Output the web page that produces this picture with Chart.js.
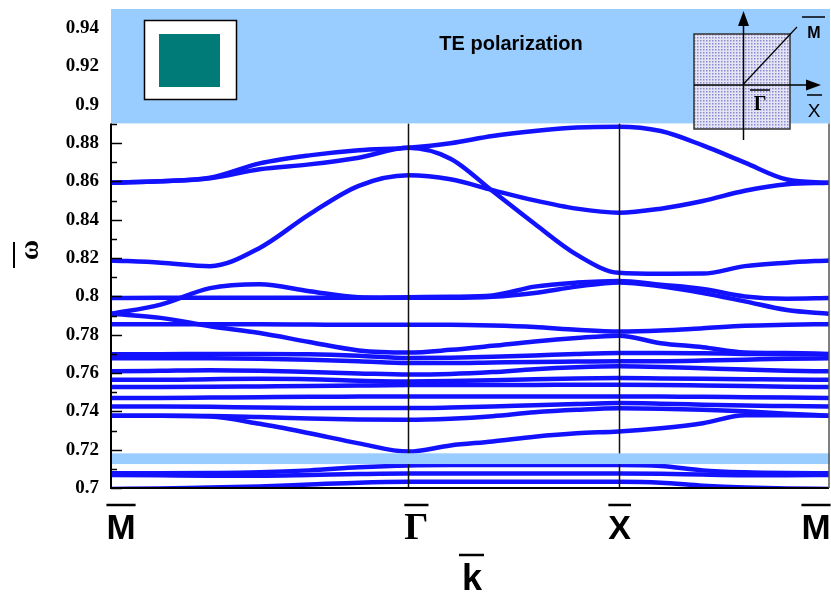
<!DOCTYPE html>
<html><head><meta charset="utf-8">
<script src="https://cdn.jsdelivr.net/npm/chart.js@4/dist/chart.umd.min.js"></script>
<style>html,body{margin:0;padding:0;background:#fff}canvas{display:block}</style>
</head><body>
<canvas id="c" width="831" height="594"></canvas>
<script>
// k positions along M - Γ - X - M (Γ-X = 1, M-Γ = √2)
const K = [0, 0.236, 0.471, 0.707, 0.943, 1.178, 1.414, 1.614, 1.814, 2.014, 2.214, 2.414, 2.614, 2.814, 3.014, 3.214, 3.414];
const X_TICKS = [0, 1.414, 2.414, 3.414];
const X_LABELS = ['M', 'Γ', 'X', 'M'];
const Y_TICKS = [0.7, 0.72, 0.74, 0.76, 0.78, 0.8, 0.82, 0.84, 0.86, 0.88, 0.9, 0.92, 0.94];
const Y_LABELS = ['0.7', '0.72', '0.74', '0.76', '0.78', '0.8', '0.82', '0.84', '0.86', '0.88', '0.9', '0.92', '0.94'];
const GAP_TOP = [0.8903, 0.95];
const GAP_LOW = [0.7125, 0.7181];

// bands (normalized frequency)
const A1 = [0.8593, 0.8601, 0.8619, 0.8694, 0.8736, 0.8763, 0.8776, 0.8799, 0.8837, 0.8863, 0.8881, 0.8886, 0.8863, 0.8788, 0.8698, 0.8610, 0.8593];
const A2 = [0.8593, 0.8601, 0.8617, 0.8664, 0.8689, 0.8724, 0.8776, 0.8719, 0.8550, 0.8379, 0.8218, 0.8123, 0.8118, 0.8119, 0.8158, 0.8176, 0.8188];
const B  = [0.8188, 0.8176, 0.8158, 0.8253, 0.8428, 0.8577, 0.8632, 0.8611, 0.8555, 0.8501, 0.8458, 0.8437, 0.8458, 0.8498, 0.8551, 0.8585, 0.8593];
const C1 = [0.7991, 0.7993, 0.7993, 0.7993, 0.7993, 0.7993, 0.7996, 0.7998, 0.8005, 0.8051, 0.8072, 0.8081, 0.8061, 0.8039, 0.8000, 0.7988, 0.7991];
const D  = [0.7909, 0.7957, 0.8043, 0.8063, 0.8027, 0.7996, 0.7993, 0.7993, 0.7998, 0.8018, 0.8051, 0.8073, 0.8053, 0.8018, 0.7974, 0.7929, 0.7909];
const E  = [0.7855, 0.7854, 0.7854, 0.7854, 0.7853, 0.7852, 0.7852, 0.7852, 0.7848, 0.7840, 0.7826, 0.7817, 0.7822, 0.7834, 0.7847, 0.7852, 0.7855];
const F  = [0.7909, 0.7888, 0.7844, 0.7809, 0.7762, 0.7718, 0.7707, 0.7721, 0.7742, 0.7765, 0.7783, 0.7795, 0.7756, 0.7735, 0.7707, 0.7704, 0.7700];
const H1 = [0.7698, 0.7698, 0.7700, 0.7700, 0.7698, 0.7690, 0.7678, 0.7680, 0.7685, 0.7692, 0.7700, 0.7705, 0.7705, 0.7703, 0.7700, 0.7698, 0.7698];
const H2 = [0.7677, 0.7677, 0.7677, 0.7675, 0.7670, 0.7662, 0.7652, 0.7652, 0.7655, 0.7658, 0.7660, 0.7662, 0.7662, 0.7665, 0.7670, 0.7675, 0.7677];
const H3 = [0.7609, 0.7612, 0.7615, 0.7612, 0.7605, 0.7598, 0.7592, 0.7595, 0.7605, 0.7620, 0.7630, 0.7635, 0.7632, 0.7625, 0.7618, 0.7612, 0.7609];
const H4 = [0.7565, 0.7565, 0.7568, 0.7570, 0.7568, 0.7560, 0.7556, 0.7558, 0.7562, 0.7568, 0.7572, 0.7574, 0.7572, 0.7570, 0.7568, 0.7566, 0.7565];
const H5 = [0.7527, 0.7527, 0.7528, 0.7530, 0.7532, 0.7535, 0.7537, 0.7537, 0.7538, 0.7538, 0.7539, 0.7539, 0.7538, 0.7535, 0.7532, 0.7529, 0.7527];
const H6 = [0.7470, 0.7470, 0.7472, 0.7474, 0.7476, 0.7477, 0.7478, 0.7478, 0.7478, 0.7478, 0.7478, 0.7478, 0.7477, 0.7476, 0.7474, 0.7472, 0.7470];
const H7 = [0.7426, 0.7426, 0.7424, 0.7420, 0.7418, 0.7417, 0.7417, 0.7420, 0.7425, 0.7432, 0.7438, 0.7443, 0.7440, 0.7435, 0.7430, 0.7428, 0.7426];
const H8 = [0.7377, 0.7377, 0.7376, 0.7370, 0.7363, 0.7358, 0.7356, 0.7362, 0.7375, 0.7395, 0.7408, 0.7416, 0.7414, 0.7408, 0.7400, 0.7388, 0.7377];
const J  = [0.7377, 0.7377, 0.7373, 0.7335, 0.7286, 0.7233, 0.7190, 0.7222, 0.7243, 0.7268, 0.7286, 0.7295, 0.7312, 0.7338, 0.7380, 0.7380, 0.7377];
const L1 = [0.7077, 0.7077, 0.7078, 0.7082, 0.7092, 0.7108, 0.7118, 0.7120, 0.7120, 0.7120, 0.7120, 0.7120, 0.7115, 0.7092, 0.7082, 0.7078, 0.7077];
const L2 = [0.7068, 0.7066, 0.7064, 0.7064, 0.7068, 0.7073, 0.7076, 0.7076, 0.7076, 0.7076, 0.7076, 0.7076, 0.7075, 0.7070, 0.7067, 0.7067, 0.7068];
const L3 = [0.6995, 0.6998, 0.7002, 0.7008, 0.7018, 0.7028, 0.7032, 0.7032, 0.7032, 0.7032, 0.7032, 0.7032, 0.7028, 0.7012, 0.7002, 0.6998, 0.6995];

const BAND_LIST = [A1, A2, B, C1, D, E, F, H1, H2, H3, H4, H5, H6, H7, H8, J, L1, L2, L3];
const BAND_COLOR = '#1212ff';
const GAP_COLOR = '#99ccff';

const datasets = BAND_LIST.map((arr, i) => ({
  label: 'band ' + (i + 1),
  data: K.map((k, j) => ({x: k, y: arr[j]})),
  borderColor: BAND_COLOR,
  borderWidth: 4.5,
  pointRadius: 0,
  fill: false,
  cubicInterpolationMode: 'monotone'
}));

function overline(ctx, x1, x2, y, w) {
  ctx.save(); ctx.strokeStyle = '#000'; ctx.lineWidth = w || 2;
  ctx.beginPath(); ctx.moveTo(x1, y); ctx.lineTo(x2, y); ctx.stroke(); ctx.restore();
}

const deco = {
  id: 'deco',
  afterDatasetsDraw(chart) {
    const ctx = chart.ctx, a = chart.chartArea;
    const xs = chart.scales.x, ys = chart.scales.y;
    const yBandBot = ys.getPixelForValue(GAP_TOP[0]);
    ctx.save();
    // symmetry-point vertical lines
    ctx.strokeStyle = '#111'; ctx.lineWidth = 1.5;
    [X_TICKS[1], X_TICKS[2]].forEach(v => {
      const px = Math.round(xs.getPixelForValue(v)) + 0.5;
      ctx.beginPath(); ctx.moveTo(px, yBandBot); ctx.lineTo(px, a.bottom); ctx.stroke();
    });
    // gap bands
    ctx.fillStyle = GAP_COLOR;
    ctx.fillRect(a.left, a.top, a.right - a.left + 1, yBandBot - a.top);
    const g1 = ys.getPixelForValue(GAP_LOW[1]), g2 = ys.getPixelForValue(GAP_LOW[0]);
    ctx.fillRect(a.left, g1, a.right - a.left + 1, g2 - g1);
    // axes
    ctx.strokeStyle = '#000'; ctx.lineWidth = 2;
    ctx.beginPath(); ctx.moveTo(a.left, yBandBot); ctx.lineTo(a.left, a.bottom); ctx.lineTo(a.right, a.bottom); ctx.stroke();
    ctx.strokeStyle = '#555'; ctx.lineWidth = 1.5;
    ctx.beginPath(); ctx.moveTo(a.right, yBandBot); ctx.lineTo(a.right, a.bottom); ctx.stroke();
    // y tick marks (major + minor)
    ctx.strokeStyle = '#000'; ctx.lineWidth = 1.5;
    for (let i = 0; i < Y_TICKS.length; i++) {
      const v = Y_TICKS[i];
      if (v < GAP_TOP[0]) {
        const py = Math.round(ys.getPixelForValue(v)) + 0.5;
        ctx.beginPath(); ctx.moveTo(a.left, py); ctx.lineTo(a.left + 11, py); ctx.stroke();
      }
      if (i + 1 < Y_TICKS.length) {
        const m = (v + Y_TICKS[i + 1]) / 2;
        if (m < GAP_TOP[0]) {
          const pm = Math.round(ys.getPixelForValue(m)) + 0.5;
          ctx.beginPath(); ctx.moveTo(a.left, pm); ctx.lineTo(a.left + 6, pm); ctx.stroke();
        }
      }
    }
    // top-left inset: unit cell
    ctx.fillStyle = '#fff'; ctx.fillRect(144, 20, 93, 80);
    ctx.strokeStyle = '#000'; ctx.lineWidth = 1.5; ctx.strokeRect(144.5, 20.5, 92, 79);
    ctx.fillStyle = '#007b77'; ctx.fillRect(159, 34, 61, 53);
    // top-right inset: Brillouin zone
    const pc = document.createElement('canvas'); pc.width = 3; pc.height = 3;
    const pctx = pc.getContext('2d');
    pctx.fillStyle = '#e4e4f4'; pctx.fillRect(0, 0, 3, 3);
    pctx.fillStyle = '#8a8ad0'; pctx.fillRect(1, 1, 1.5, 1.5);
    ctx.fillStyle = ctx.createPattern(pc, 'repeat');
    ctx.fillRect(694, 34, 96, 95);
    ctx.strokeStyle = '#333'; ctx.lineWidth = 1.5; ctx.strokeRect(694, 34, 96, 95);
    ctx.strokeStyle = '#000'; ctx.lineWidth = 1.5;
    ctx.beginPath(); ctx.moveTo(743.5, 24); ctx.lineTo(743.5, 140); ctx.stroke();
    ctx.beginPath(); ctx.moveTo(694, 85); ctx.lineTo(807, 85); ctx.stroke();
    ctx.lineWidth = 1.2;
    ctx.beginPath(); ctx.moveTo(743.5, 84); ctx.lineTo(797, 27); ctx.stroke();
    ctx.fillStyle = '#000';
    ctx.beginPath(); ctx.moveTo(743.5, 11); ctx.lineTo(738, 26); ctx.lineTo(749, 26); ctx.closePath(); ctx.fill();
    ctx.beginPath(); ctx.moveTo(821, 85); ctx.lineTo(806, 79.5); ctx.lineTo(806, 90.5); ctx.closePath(); ctx.fill();
    ctx.textAlign = 'center'; ctx.textBaseline = 'alphabetic';
    ctx.font = 'bold 16px "Liberation Sans", Arial, sans-serif';
    ctx.fillText('M', 814, 38); overline(ctx, 802, 825, 17, 1.5);
    ctx.font = 'bold 20px "Liberation Serif", serif';
    ctx.fillText('Γ', 760, 110); overline(ctx, 750, 770, 90, 1.5);
    ctx.font = '19px "Liberation Sans", Arial, sans-serif';
    ctx.fillText('X', 814, 117); overline(ctx, 807, 822, 95, 1.5);
    // title
    ctx.font = 'bold 20px "Liberation Sans", Arial, sans-serif';
    ctx.fillText('TE polarization', 511, 50);
    // x symmetry labels
    const offs = [10, 8, 1, -13];
    const fonts = ['bold 35px "Liberation Sans", Arial, sans-serif', 'bold 38px "Liberation Serif", serif',
                   'bold 34px "Liberation Sans", Arial, sans-serif', 'bold 35px "Liberation Sans", Arial, sans-serif'];
    X_TICKS.forEach((v, i) => {
      const cx = xs.getPixelForValue(v) + offs[i];
      ctx.font = fonts[i];
      ctx.fillText(X_LABELS[i], cx, 539);
      const w = ctx.measureText(X_LABELS[i]).width;
      overline(ctx, cx - w / 2, cx + w / 2, 505, 2.5);
    });
    // axis titles
    ctx.font = 'bold 36px "Liberation Sans", Arial, sans-serif';
    ctx.fillText('k', 472, 590);
    overline(ctx, 459, 484, 555, 2.5);
    ctx.save();
    ctx.translate(31, 250); ctx.rotate(-Math.PI / 2);
    ctx.font = 'bold 28px "Liberation Serif", serif';
    ctx.textBaseline = 'middle';
    ctx.fillText('ω', 0, 0);
    ctx.restore();
    ctx.save(); ctx.strokeStyle = '#000'; ctx.lineWidth = 2;
    ctx.beginPath(); ctx.moveTo(14, 242); ctx.lineTo(14, 268); ctx.stroke(); ctx.restore();
    ctx.restore();
  }
};

new Chart(document.getElementById('c'), {
  type: 'line',
  data: { datasets },
  options: {
    responsive: false,
    animation: false,
    devicePixelRatio: 1,
    layout: { padding: { top: 9, right: 2, left: 0, bottom: 0 } },
    plugins: { legend: { display: false }, tooltip: { enabled: false } },
    scales: {
      x: {
        type: 'linear', min: 0, max: 3.414,
        grid: { display: false, drawTicks: false }, border: { display: false },
        ticks: { display: false },
        afterFit(s) { s.height = 106; s.paddingLeft = 0; s.paddingRight = 0; }
      },
      y: {
        type: 'linear', min: 0.7, max: 0.95,
        grid: { display: false, drawTicks: false }, border: { display: false },
        afterBuildTicks(s) { s.ticks = Y_TICKS.map(v => ({ value: v })); },
        ticks: {
          padding: 12, color: '#000',
          font: { family: '"Liberation Serif", serif', weight: 'bold', size: 19 },
          callback(v) { const i = Y_TICKS.findIndex(t => Math.abs(t - v) < 1e-6); return i >= 0 ? Y_LABELS[i] : ''; }
        },
        afterFit(s) { s.width = 111; s.paddingTop = 0; s.paddingBottom = 0; }
      }
    }
  },
  plugins: [deco]
});
</script>
</body></html>
